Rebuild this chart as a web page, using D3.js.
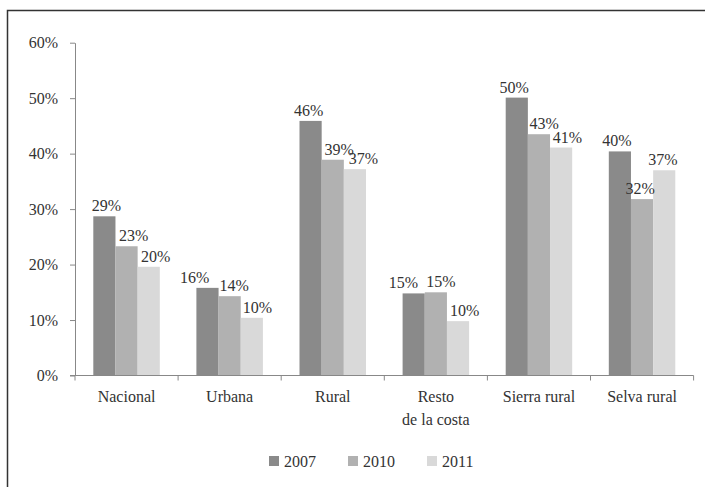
<!DOCTYPE html>
<html>
<head>
<meta charset="utf-8">
<script src="https://cdn.jsdelivr.net/npm/d3@7"></script>
<style>
body{margin:0;background:#fff;}
svg text{font-family:"Liberation Serif","Times New Roman",serif;fill:#333;}
</style>
</head>
<body>
<script>
const categories=["Nacional","Urbana","Rural","Resto\nde la costa","Sierra rural","Selva rural"];
const years=["2007","2010","2011"];
const v2007=[28.7,15.8,45.9,14.8,50.1,40.4];
const v2010=[23.3,14.3,38.9,15.0,43.5,31.8];
const v2011=[19.6,10.4,37.2,9.8,41.1,37.0];
const labels2007=["29%","16%","46%","15%","50%","40%"];
const labels2010=["23%","14%","39%","15%","43%","32%"];
const labels2011=["20%","10%","37%","10%","41%","37%"];
const yTicks=[0,10,20,30,40,50,60];

// horizontal nudges of the value labels (px), to keep them apart as in the original
const nudge=[[2,7,7],[-12.7,4.6,5.5],[-2,6.5,8.4],[-10.2,5,6.6],[-2.5,5.3,6.2],[-3,-2,-1.4]];

const W=705,H=487,
plotLeft=75,plotRight=693.6,plotTop=42.7,plotBottom=375.5,
colors=["#8a8a8a","#b1b1b1","#d9d9d9"];

const series=[v2007,v2010,v2011];
const serLabels=[labels2007,labels2010,labels2011];

const svg=d3.select("body").append("svg")
 .attr("width",W).attr("height",H);

// frame
svg.append("path")
 .attr("d",`M7.5,${H} V10.5 H${W}`)
 .attr("fill","none").attr("stroke","#333").attr("stroke-width",1.5);

const x0=d3.scaleBand().domain(d3.range(categories.length)).range([plotLeft,plotRight]).paddingInner(0).paddingOuter(0);
const pad=18.3;
const x1=d3.scaleBand().domain(d3.range(years.length)).range([pad,x0.bandwidth()-pad]);
const y=d3.scaleLinear().domain([0,60]).range([plotBottom,plotTop]);

// bars
const groups=svg.selectAll(".grp").data(categories).enter().append("g")
 .attr("class","grp")
 .attr("transform",(d,i)=>`translate(${x0(i)},0)`);

series.forEach((s,k)=>{
 groups.append("rect")
  .attr("x",x1(k))
  .attr("y",(d,i)=>y(s[i]))
  .attr("width",x1.bandwidth())
  .attr("height",(d,i)=>plotBottom-y(s[i]))
  .attr("fill",colors[k]);
});
series.forEach((s,k)=>{
 groups.append("text")
  .attr("x",(d,i)=>x1(k)+x1.bandwidth()/2+nudge[i][k])
  .attr("y",(d,i)=>y(s[i])-5)
  .attr("text-anchor","middle")
  .style("font-size","16px")
  .text((d,i)=>serLabels[k][i]);
});

// y axis
const yAxis=d3.axisLeft(y).tickValues(yTicks).tickFormat(d=>d+"%").tickSize(5).tickSizeOuter(0);
const gy=svg.append("g").attr("transform",`translate(${plotLeft},0)`).call(yAxis);
gy.select(".domain").attr("stroke","#888");
gy.selectAll(".tick line").attr("stroke","#888");
gy.selectAll(".tick text").attr("x",-17).style("font-size","16px").attr("fill","#333");

// x axis
const gx=svg.append("g").attr("transform",`translate(0,${plotBottom})`);
gx.append("line").attr("x1",plotLeft-5).attr("x2",plotRight).attr("y1",0).attr("y2",0).attr("stroke","#888");
gx.selectAll(".xt").data(d3.range(categories.length+1)).enter().append("line")
 .attr("x1",i=>i<categories.length?x0(i):plotRight)
 .attr("x2",i=>i<categories.length?x0(i):plotRight)
 .attr("y1",0).attr("y2",5).attr("stroke","#888");
gx.selectAll(".xl").data(categories).enter().append("text")
 .attr("text-anchor","middle")
 .attr("transform",(d,i)=>`translate(${x0(i)+x0.bandwidth()/2},26)`)
 .style("font-size","16px")
 .each(function(d){
   d.split("\n").forEach((t,j)=>{
     d3.select(this).append("tspan").attr("x",0).attr("dy",j?23:0).text(t);
   });
 });

// legend
const lg=svg.selectAll(".lg").data(years).enter().append("g")
 .attr("transform",(d,i)=>`translate(${269+i*79},456)`);
lg.append("rect").attr("width",10).attr("height",10).attr("fill",(d,i)=>colors[i]);
lg.append("text").attr("x",15).attr("y",10.5).style("font-size","16px").text(d=>d);
</script>
</body>
</html>
